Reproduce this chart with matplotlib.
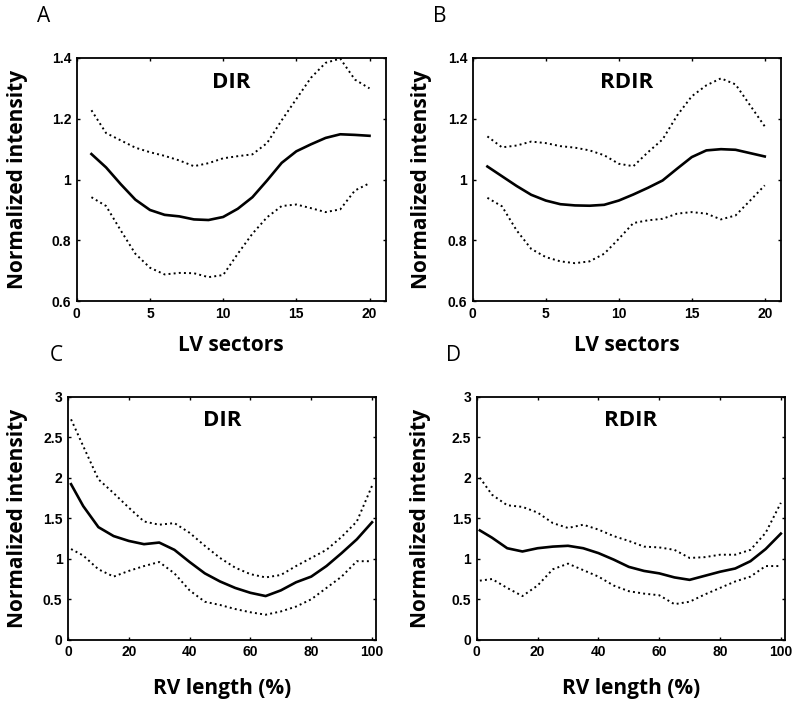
import numpy as np
import matplotlib.pyplot as plt

# LV sectors (panels A, B)
lv_x = list(range(1, 21))
dir_lv_mean = [1.084, 1.04, 0.985, 0.934, 0.90, 0.884, 0.879, 0.869, 0.867, 0.877,
               0.904, 0.942, 0.997, 1.055, 1.093, 1.116, 1.137, 1.149, 1.147, 1.144]
dir_lv_upper = [1.228, 1.153, 1.129, 1.105, 1.09, 1.078, 1.063, 1.044, 1.054, 1.07,
                1.077, 1.083, 1.12, 1.195, 1.265, 1.335, 1.384, 1.398, 1.329, 1.30]
dir_lv_lower = [0.942, 0.913, 0.833, 0.756, 0.71, 0.688, 0.693, 0.692, 0.679, 0.686,
                0.756, 0.822, 0.876, 0.913, 0.918, 0.906, 0.893, 0.902, 0.964, 0.988]

rdir_lv_mean = [1.043, 1.011, 0.979, 0.95, 0.931, 0.919, 0.915, 0.914, 0.917, 0.931,
                0.951, 0.973, 0.997, 1.036, 1.074, 1.096, 1.10, 1.098, 1.087, 1.076]
rdir_lv_upper = [1.142, 1.106, 1.112, 1.125, 1.12, 1.11, 1.105, 1.096, 1.08, 1.052,
                 1.044, 1.09, 1.132, 1.211, 1.274, 1.31, 1.333, 1.313, 1.244, 1.175]
rdir_lv_lower = [0.94, 0.912, 0.833, 0.772, 0.745, 0.731, 0.725, 0.731, 0.756, 0.805,
                 0.857, 0.866, 0.871, 0.888, 0.893, 0.888, 0.869, 0.882, 0.931, 0.981]

# RV length (panels C, D)
rv_x = [1, 5, 10, 15, 20, 25, 30, 35, 40, 45, 50, 55, 60, 65, 70, 75, 80, 85, 90, 95, 100]
dir_rv_mean = [1.92, 1.65, 1.39, 1.28, 1.22, 1.18, 1.20, 1.11, 0.96, 0.82, 0.72,
               0.64, 0.58, 0.54, 0.61, 0.71, 0.78, 0.91, 1.07, 1.24, 1.45]
dir_rv_upper = [2.72, 2.39, 1.98, 1.81, 1.63, 1.46, 1.42, 1.44, 1.32, 1.16, 1.01,
                0.89, 0.81, 0.77, 0.80, 0.91, 1.01, 1.11, 1.27, 1.46, 1.90]
dir_rv_lower = [1.12, 1.04, 0.87, 0.78, 0.85, 0.91, 0.96, 0.82, 0.61, 0.47, 0.43,
                0.38, 0.34, 0.31, 0.35, 0.41, 0.50, 0.64, 0.78, 0.97, 0.97]

rdir_rv_mean = [1.35, 1.26, 1.13, 1.09, 1.13, 1.15, 1.16, 1.13, 1.07, 0.99, 0.90,
                0.85, 0.82, 0.77, 0.74, 0.79, 0.84, 0.88, 0.97, 1.12, 1.31]
rdir_rv_upper = [2.0, 1.79, 1.66, 1.64, 1.57, 1.44, 1.38, 1.42, 1.36, 1.28, 1.22,
                 1.15, 1.14, 1.11, 1.01, 1.02, 1.05, 1.05, 1.11, 1.32, 1.69]
rdir_rv_lower = [0.73, 0.75, 0.64, 0.54, 0.67, 0.87, 0.94, 0.86, 0.78, 0.67, 0.60,
                 0.57, 0.55, 0.44, 0.47, 0.56, 0.64, 0.72, 0.78, 0.91, 0.91]

label_font = 'Open Sans'
tick_font = 'Liberation Sans'

fig = plt.figure(figsize=(8, 7.07), dpi=100)

# letter, title, axes rect, letter pos, ylabel x (axes coords), data..., kind
panels = [
    ('A', 'DIR', [0.096, 0.574, 0.386, 0.344], (0.046, 0.977), -0.158,
     lv_x, dir_lv_mean, dir_lv_upper, dir_lv_lower, 'LV'),
    ('B', 'RDIR', [0.591, 0.574, 0.385, 0.344], (0.541, 0.977), -0.133,
     lv_x, rdir_lv_mean, rdir_lv_upper, rdir_lv_lower, 'LV'),
    ('C', 'DIR', [0.085, 0.095, 0.385, 0.344], (0.062, 0.497), -0.13,
     rv_x, dir_rv_mean, dir_rv_upper, dir_rv_lower, 'RV'),
    ('D', 'RDIR', [0.596, 0.095, 0.385, 0.344], (0.558, 0.497), -0.149,
     rv_x, rdir_rv_mean, rdir_rv_upper, rdir_rv_lower, 'RV'),
]

for letter, title, rect, lpos, ylx, x, mean, upper, lower, kind in panels:
    ax = fig.add_axes(rect)
    ax.plot(x, mean, color='black', lw=1.9)
    ax.plot(x, upper, color='black', lw=1.4, ls=':')
    ax.plot(x, lower, color='black', lw=1.4, ls=':')
    if kind == 'LV':
        ax.set_xlim(0, 21.1)
        ax.set_ylim(0.6, 1.4)
        ax.set_xticks([0, 5, 10, 15, 20])
        ax.set_yticks([0.6, 0.8, 1.0, 1.2, 1.4])
        ax.set_yticklabels(['0.6', '0.8', '1', '1.2', '1.4'])
        xlabel = 'LV sectors'
        xly = -0.14
    else:
        ax.set_xlim(0, 101.3)
        ax.set_ylim(0, 3)
        ax.set_xticks([0, 20, 40, 60, 80, 100])
        ax.set_yticks([0, 0.5, 1, 1.5, 2, 2.5, 3])
        ax.set_yticklabels(['0', '0.5', '1', '1.5', '2', '2.5', '3'])
        xlabel = 'RV length (%)'
        xly = -0.155
    ax.tick_params(direction='in', top=True, right=True, length=2.5, width=1,
                   labelsize=10, pad=4)
    for lab in ax.get_xticklabels() + ax.get_yticklabels():
        lab.set_fontfamily(tick_font)
        lab.set_fontweight('bold')
    for sp in ax.spines.values():
        sp.set_linewidth(1.3)
    ax.set_xlabel(xlabel, fontfamily=label_font, fontweight='bold', fontsize=15)
    ax.xaxis.set_label_coords(0.5, xly)
    ax.set_ylabel('Normalized intensity', fontfamily=label_font, fontweight='bold', fontsize=15)
    ax.yaxis.set_label_coords(ylx, 0.5)
    ax.text(0.5, 0.9, title, transform=ax.transAxes, ha='center', va='center',
            fontfamily=label_font, fontweight='bold', fontsize=16)
    fig.text(lpos[0], lpos[1], letter, fontfamily=label_font,
             fontsize=15, ha='left', va='center')

fig.savefig('out.png', dpi=100)
